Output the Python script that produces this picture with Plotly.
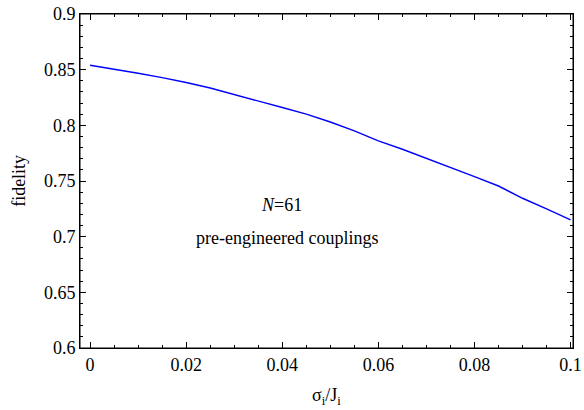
import plotly.graph_objects as go

sigma_ratio = [0.0, 0.005, 0.01, 0.015, 0.02, 0.025, 0.03, 0.035, 0.04, 0.045, 0.05,
               0.055, 0.06, 0.065, 0.07, 0.075, 0.08, 0.085, 0.09, 0.095, 0.1]
fidelity = [0.8540, 0.8505, 0.8468, 0.8428, 0.8385, 0.8335, 0.8278, 0.8220, 0.8160,
            0.8100, 0.8030, 0.7950, 0.7860, 0.7785, 0.7705, 0.7625, 0.7540, 0.7455,
            0.7345, 0.7250, 0.7150]

x_ticks = [0, 0.02, 0.04, 0.06, 0.08, 0.1]
x_ticklabels = ["0", "0.02", "0.04", "0.06", "0.08", "0.1"]
y_ticks = [0.6, 0.65, 0.7, 0.75, 0.8, 0.85, 0.9]
y_ticklabels = ["0.6", "0.65", "0.7", "0.75", "0.8", "0.85", "0.9"]

FONT = "Liberation Serif"

fig = go.Figure()
fig.add_trace(go.Scatter(x=sigma_ratio, y=fidelity, mode="lines",
                         line=dict(color="#0000ff", width=1.4),
                         showlegend=False))

axis_common = dict(showgrid=False, zeroline=False, showline=True, linecolor="black",
                   linewidth=1, mirror="ticks", ticks="inside", ticklen=6, tickwidth=1,
                   tickcolor="black", automargin=False, ticklabeloverflow="allow",
                   tickfont=dict(family=FONT, size=18, color="black"))

fig.update_xaxes(range=[-0.0021, 0.1005], tickvals=x_ticks, ticktext=x_ticklabels,
                 minor=dict(dtick=0.005, tick0=0, ticks="inside", ticklen=3, tickcolor="black"),
                 **axis_common)
fig.update_yaxes(range=[0.6, 0.9], tickvals=y_ticks, ticktext=y_ticklabels,
                 minor=dict(dtick=0.01, tick0=0.6, ticks="inside", ticklen=3, tickcolor="black"),
                 **axis_common)

# plot frame
fig.add_shape(type="rect", xref="paper", yref="paper", x0=0, x1=1, y0=0, y1=1,
              line=dict(color="black", width=1), fillcolor="rgba(0,0,0,0)", layer="above")

fig.add_annotation(xref="paper", yref="paper", x=0.5, y=-0.144, xanchor="center", yanchor="middle",
                   text="σ<sub>i</sub>/J<sub>i</sub>", showarrow=False,
                   font=dict(family=FONT, size=18, color="black"))
fig.add_annotation(xref="paper", yref="paper", x=-0.124, y=0.5, xanchor="center", yanchor="middle",
                   text="fidelity", textangle=-90, showarrow=False,
                   font=dict(family=FONT, size=18, color="black"))

fig.add_annotation(x=0.0398, y=0.7284, text="<i>N</i>=61", showarrow=False,
                   font=dict(family=FONT, size=18, color="black"))
fig.add_annotation(x=0.0409, y=0.6987, text="pre-engineered couplings", showarrow=False,
                   font=dict(family=FONT, size=18, color="black"))

fig.update_layout(width=584, height=410, margin=dict(l=80, r=11, t=14, b=62),
                  plot_bgcolor="white", paper_bgcolor="white")

fig.write_html("out.html", config={"displayModeBar": False},
               post_script="document.body.style.margin='0';document.body.style.overflow='hidden';")
